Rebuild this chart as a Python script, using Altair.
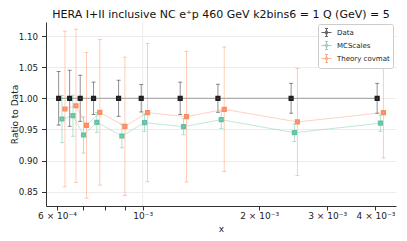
import altair as alt
import pandas as pd

# ---- data ----
x_vals = [6.06e-4, 6.47e-4, 6.89e-4, 7.46e-4, 8.66e-4, 9.91e-4, 1.250e-3, 1.565e-3, 2.42e-3, 4.04e-3]
data_y = [1.0] * 10
data_err = [0.043, 0.045, 0.037, 0.026, 0.029, 0.022, 0.026, 0.0225, 0.024, 0.024]
mc_y = [0.9667, 0.972, 0.941, 0.9614, 0.9394, 0.9608, 0.9544, 0.9656, 0.9447, 0.960]
mc_err = [0.038, 0.033, 0.029, 0.016, 0.019, 0.014, 0.013, 0.014, 0.014, 0.013]
th_y = [0.9828, 0.988, 0.9566, 0.9775, 0.955, 0.9769, 0.9704, 0.9823, 0.962, 0.977]
th_err = [0.125, 0.123, 0.117, 0.117, 0.111, 0.111, 0.105, 0.100, 0.086, 0.073]

series_names = ["Data", "MCScales", "Theory covmat"]
series_colors = ["#1f1f1f", "#66c2a5", "#fc8d62"]

x_tick_values = [6e-4, 7e-4, 8e-4, 9e-4, 1e-3, 2e-3, 3e-3, 4e-3]
x_tick_labels = ["6 × 10⁻⁴", "", "", "", "10⁻³", "2 × 10⁻³", "3 × 10⁻³", "4 × 10⁻³"]
y_tick_values = [0.85, 0.90, 0.95, 1.00, 1.05, 1.10]
x_grid_values = [1e-3]

x_domain = [5.62e-4, 4.52e-3]
y_domain = [0.827, 1.1225]

FONT = "DejaVu Sans"

label_expr = ""
for v, l in zip(x_tick_values, x_tick_labels):
    label_expr += f"abs(datum.value - {v}) < {v * 0.01} ? '{l}' : "
label_expr += "''"

xscale = alt.Scale(type="log", domain=x_domain, nice=False)
yscale = alt.Scale(domain=y_domain, nice=False, zero=False)
cscale = alt.Scale(domain=series_names, range=series_colors)

xaxis = alt.Axis(values=x_tick_values, labelExpr=label_expr, grid=False, title="x",
                 labelFontSize=9, titleFontSize=9, labelFont=FONT, titleFont=FONT,
                 titleFontWeight="normal", domainColor="#333", tickColor="#333",
                 labelColor="#222", titleColor="#222", tickSize=4, labelPadding=1.5,
                 titlePadding=4, labelFlush=False, labelOverlap=False)
yaxis = alt.Axis(values=y_tick_values, format=".2f", grid=True, gridColor="#ececec",
                 title="Ratio to Data", labelFontSize=8.7, titleFontSize=9,
                 labelFont=FONT, titleFont=FONT, titleFontWeight="normal",
                 domainColor="#333", tickColor="#333", labelColor="#222",
                 titleColor="#222", tickSize=4.5, labelPadding=4,
                 titleX=-29, titleBaseline="alphabetic")

legend_symbol = ("M-1,0H1M0,-0.8V0.8M-0.3,-0.8H0.3M-0.3,0.8H0.3"
                 "M-0.25,-0.25H0.25M-0.25,-0.12H0.25M-0.25,0H0.25"
                 "M-0.25,0.12H0.25M-0.25,0.25H0.25")

legend = alt.Legend(title=None, orient="none", legendX=272, legendY=2,
                    fillColor="white", strokeColor="#cccccc", padding=3,
                    cornerRadius=2, labelFontSize=7, labelFont=FONT,
                    labelColor="#222", symbolType=legend_symbol, symbolSize=100,
                    symbolStrokeWidth=1, symbolOpacity=0.7,
                    rowPadding=0, labelOffset=5)


def X(field):
    return alt.X(field, scale=xscale, axis=xaxis)


def Y(field):
    return alt.Y(field, scale=yscale, axis=yaxis)


def series_layers(name, ys, errs, color, offset, line_op, bar_op):
    df = pd.DataFrame({
        "x": x_vals,
        "y": ys,
        "lo": [a - b for a, b in zip(ys, errs)],
        "hi": [a + b for a, b in zip(ys, errs)],
        "series": [name] * len(x_vals),
    })
    base = alt.Chart(df)
    line = base.mark_line(strokeWidth=0.8, opacity=line_op, color=color).encode(
        x=X("x:Q"), y=Y("y:Q"), xOffset=alt.value(offset))
    bars = base.mark_rule(strokeWidth=0.9, opacity=bar_op, color=color).encode(
        x=X("x:Q"), y=Y("lo:Q"), y2="hi:Q", xOffset=alt.value(offset))
    cap_lo = base.mark_tick(orient="horizontal", size=4, thickness=0.9,
                            opacity=bar_op, color=color).encode(
        x=X("x:Q"), y=Y("lo:Q"), xOffset=alt.value(offset))
    cap_hi = base.mark_tick(orient="horizontal", size=4, thickness=0.9,
                            opacity=bar_op, color=color).encode(
        x=X("x:Q"), y=Y("hi:Q"), xOffset=alt.value(offset))
    pts = base.mark_point(shape="square", filled=False, size=9, strokeWidth=2.2,
                          opacity=1).encode(
        x=X("x:Q"), y=Y("y:Q"),
        color=alt.Color("series:N", scale=cscale, legend=legend),
        xOffset=alt.value(offset))
    return [bars, cap_lo, cap_hi, line, pts]


grid_df = pd.DataFrame({"g": x_grid_values})
vgrid = alt.Chart(grid_df).mark_rule(color="#ececec", strokeWidth=1).encode(
    x=X("g:Q"))

layers = [vgrid]
layers += series_layers("Data", data_y, data_err, "#1f1f1f", 0, 0.5, 0.55)
layers += series_layers("MCScales", mc_y, mc_err, "#66c2a5", 3.3, 0.5, 0.55)
layers += series_layers("Theory covmat", th_y, th_err, "#fc8d62", 6.3, 0.5, 0.5)

chart = alt.layer(*layers).properties(
    width=350, height=184,
    title=alt.TitleParams("HERA I+II inclusive NC e⁺p 460 GeV k2bins6 = 1 Q (GeV) = 5",
                          font=FONT, fontSize=11, fontWeight="normal",
                          color="#111", anchor="middle", offset=2),
    autosize=alt.AutoSizeParams(type="none"),
    padding={"left": 38, "top": 14, "right": 3, "bottom": 33},
).configure_view(stroke=None)

chart.save("out.html", embed_options={"renderer": "svg", "actions": False})
